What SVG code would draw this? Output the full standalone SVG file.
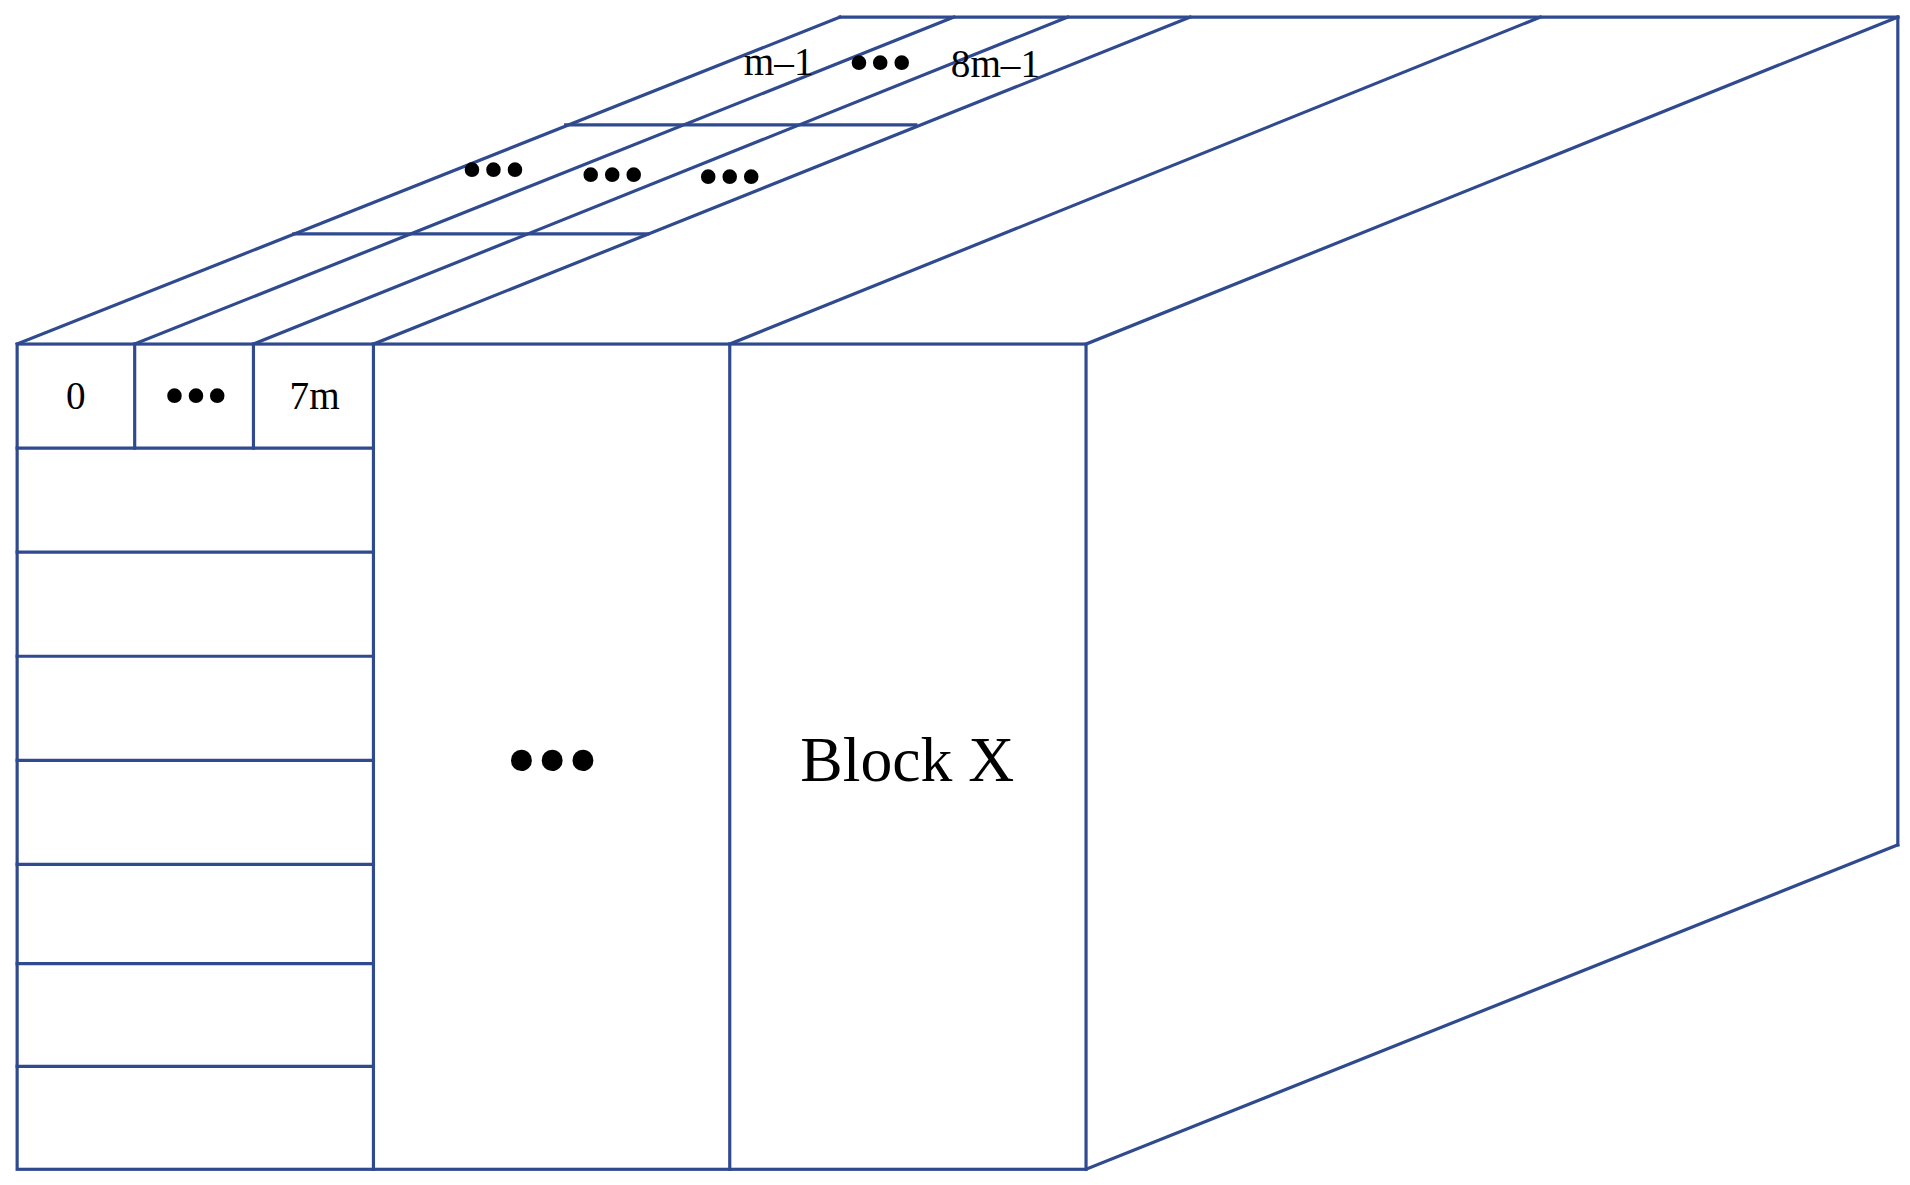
<svg xmlns="http://www.w3.org/2000/svg" width="1910" height="1185" viewBox="0 0 1910 1185">
<style>
.l{stroke:#2f4a8f;stroke-width:2.6;fill:none;stroke-linecap:square}
.t{font-family:"Liberation Serif",serif;fill:#000;text-anchor:middle}
</style>
<rect width="1910" height="1185" fill="#fff"/>
<g transform="scale(1.2244)">
<g id="front" class="l">
<rect x="14" y="281" width="873" height="674"/>
<line x1="110" y1="281" x2="110" y2="366"/>
<line x1="207" y1="281" x2="207" y2="366"/>
<line x1="305" y1="281" x2="305" y2="955"/>
<line x1="596" y1="281" x2="596" y2="955"/>
<line x1="14" y1="366" x2="305" y2="366"/>
<line x1="14" y1="451" x2="305" y2="451"/>
<line x1="14" y1="536" x2="305" y2="536"/>
<line x1="14" y1="621" x2="305" y2="621"/>
<line x1="14" y1="706" x2="305" y2="706"/>
<line x1="14" y1="787" x2="305" y2="787"/>
<line x1="14" y1="871" x2="305" y2="871"/>
</g>
<g id="top" class="l">
<line x1="14" y1="281" x2="686" y2="14"/>
<line x1="110" y1="281" x2="779" y2="14"/>
<line x1="207" y1="281" x2="872" y2="14"/>
<line x1="305" y1="281" x2="972" y2="14"/>
<line x1="596" y1="281" x2="1258" y2="14"/>
<line x1="887" y1="281" x2="1550" y2="14"/>
<line x1="686" y1="14" x2="1550" y2="14"/>
<line x1="240" y1="191" x2="529" y2="191"/>
<line x1="462" y1="102" x2="748" y2="102"/>
</g>
<g id="side" class="l">
<line x1="1550" y1="14" x2="1550" y2="690"/>
<line x1="887" y1="955" x2="1550" y2="690"/>
</g>
<g id="labels" class="t">
<text x="62" y="334" font-size="32">0</text>
<text x="257" y="334" font-size="32">7m</text>
<text x="160" y="340" font-size="50">•••</text>
<text x="636" y="61" font-size="32">m–1</text>
<text x="719" y="68" font-size="50">•••</text>
<text x="813" y="63" font-size="32">8m–1</text>
<text x="403" y="155" font-size="50">•••</text>
<text x="500" y="159" font-size="50">•••</text>
<text x="596" y="161" font-size="50">•••</text>
<text x="451" y="645" font-size="72">•••</text>
<text x="741" y="638" font-size="52">Block X</text>
</g>
</g>
</svg>
